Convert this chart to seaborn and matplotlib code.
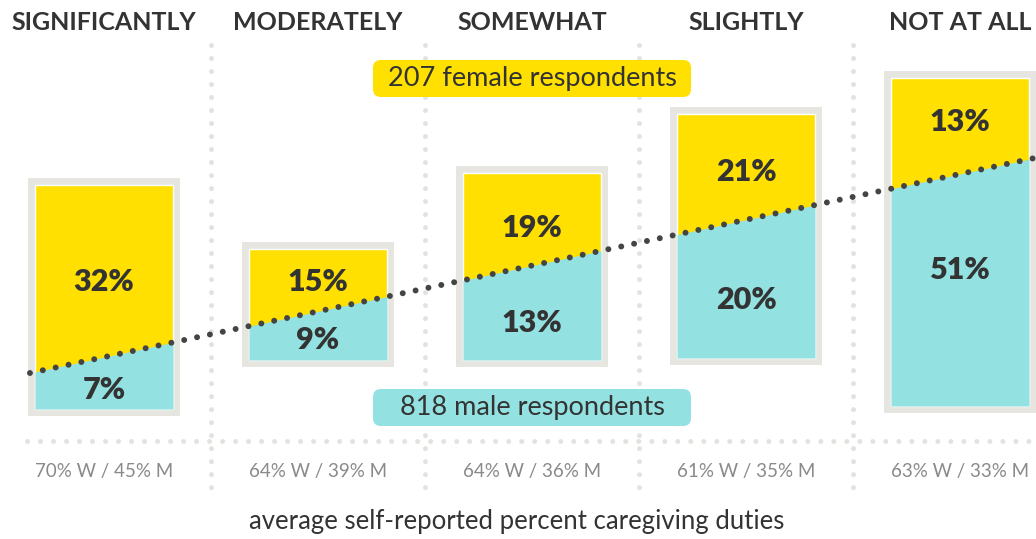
import numpy as np
import pandas as pd
import matplotlib.pyplot as plt
from matplotlib.patches import Rectangle, FancyBboxPatch
import seaborn as sns

# data
categories = ["SIGNIFICANTLY", "MODERATELY", "SOMEWHAT", "SLIGHTLY", "NOT AT ALL"]
female_pct = [32, 15, 19, 21, 13]
male_pct = [7, 9, 13, 20, 51]
avg_women = [70, 64, 64, 61, 63]
avg_men = [45, 39, 36, 35, 33]
n_female = 207
n_male = 818

# layout (y measured in pixels from the top)
box_top = [185, 249, 173, 114, 78]
box_bottom = [409, 360, 360, 358, 406]
female_label_y = [282, 282, 228, 172, 122]
male_label_y = [390, 340, 323, 300, 270]
trend_x = [-0.346, 4.36]
trend_y = [373, 157.5]

YELLOW = "#ffe000"
CYAN = "#93e1e1"
FRAME = "#e6e5e0"
DARK = "#333333"
SEP = "#e2e2de"

sns.set_theme(style="white")
plt.rcParams["font.family"] = ["Lato", "DejaVu Sans"]

fig = plt.figure(figsize=(10.36, 5.39), dpi=100)
ax = fig.add_axes([0, 0, 1, 1])
ax.set_xlim(-104 / 214, (1036 - 104) / 214)
ax.set_ylim(539, 0)
ax.axis("off")

x = np.arange(len(categories))
inner_w = 138 / 214
outer_w = 152 / 214
border = 7


def line_at(xv):
    return np.interp(xv, trend_x, trend_y)


# light dotted separators
dot_style = dict(color=SEP, lw=3.6, linestyle=(0, (0.001, 2.6)),
                 dash_capstyle="round", zorder=1)
for i in x[:-1]:
    ax.plot([i + 0.5, i + 0.5], [45, 495], **dot_style)
ax.plot([-0.36, 4.36], [441, 441], **dot_style)

# boxes
for i in x:
    top, bot = box_top[i], box_bottom[i]
    ax.add_patch(Rectangle((i - outer_w / 2, top - border), outer_w,
                           bot - top + 2 * border, fc=FRAME, ec="none", zorder=2))
    ax.bar(i, bot - top, bottom=top, width=inner_w, color=YELLOW, zorder=3)
    xs = np.linspace(i - inner_w / 2, i + inner_w / 2, 20)
    ax.fill_between(xs, line_at(xs), bot, color=CYAN, lw=0, zorder=4)
    ax.text(i, female_label_y[i], f"{female_pct[i]}%", ha="center", va="center",
            fontsize=22, fontweight="heavy", color=DARK, zorder=6)
    ax.text(i, male_label_y[i], f"{male_pct[i]}%", ha="center", va="center",
            fontsize=22, fontweight="heavy", color=DARK, zorder=6)
    ax.text(i, 22, categories[i], ha="center", va="center", fontsize=18,
            fontweight="bold", color=DARK)
    ax.text(i, 471, f"{avg_women[i]}% W / {avg_men[i]}% M", ha="center",
            va="center", fontsize=13.5, color="#8a8a8a")

# dotted trend line
trend = pd.DataFrame({"x": trend_x, "y": trend_y})
sns.lineplot(data=trend, x="x", y="y", ax=ax, color="#444444", lw=4.3,
             linestyle=(0, (0.001, 2.2)), dash_capstyle="round", zorder=5)
ax.set_xlim(-104 / 214, (1036 - 104) / 214)
ax.set_ylim(539, 0)

# respondent pills
pill_w = 318 / 214
for yc, txt, col in [(78.5, f"{n_female} female respondents", YELLOW),
                     (407.5, f"{n_male} male respondents", CYAN)]:
    ax.add_patch(FancyBboxPatch((2 - pill_w / 2, yc - 18.5), pill_w, 37,
                                boxstyle="round,pad=0,rounding_size=0.037",
                                mutation_aspect=214, fc=col, ec="none", zorder=7))
    ax.text(2, yc, txt, ha="center", va="center", fontsize=19.5, color=DARK, zorder=8)

ax.text(1.93, 522, "average self-reported percent caregiving duties", ha="center",
        va="center", fontsize=18.5, color=DARK)

fig.savefig("out.png", dpi=100)
